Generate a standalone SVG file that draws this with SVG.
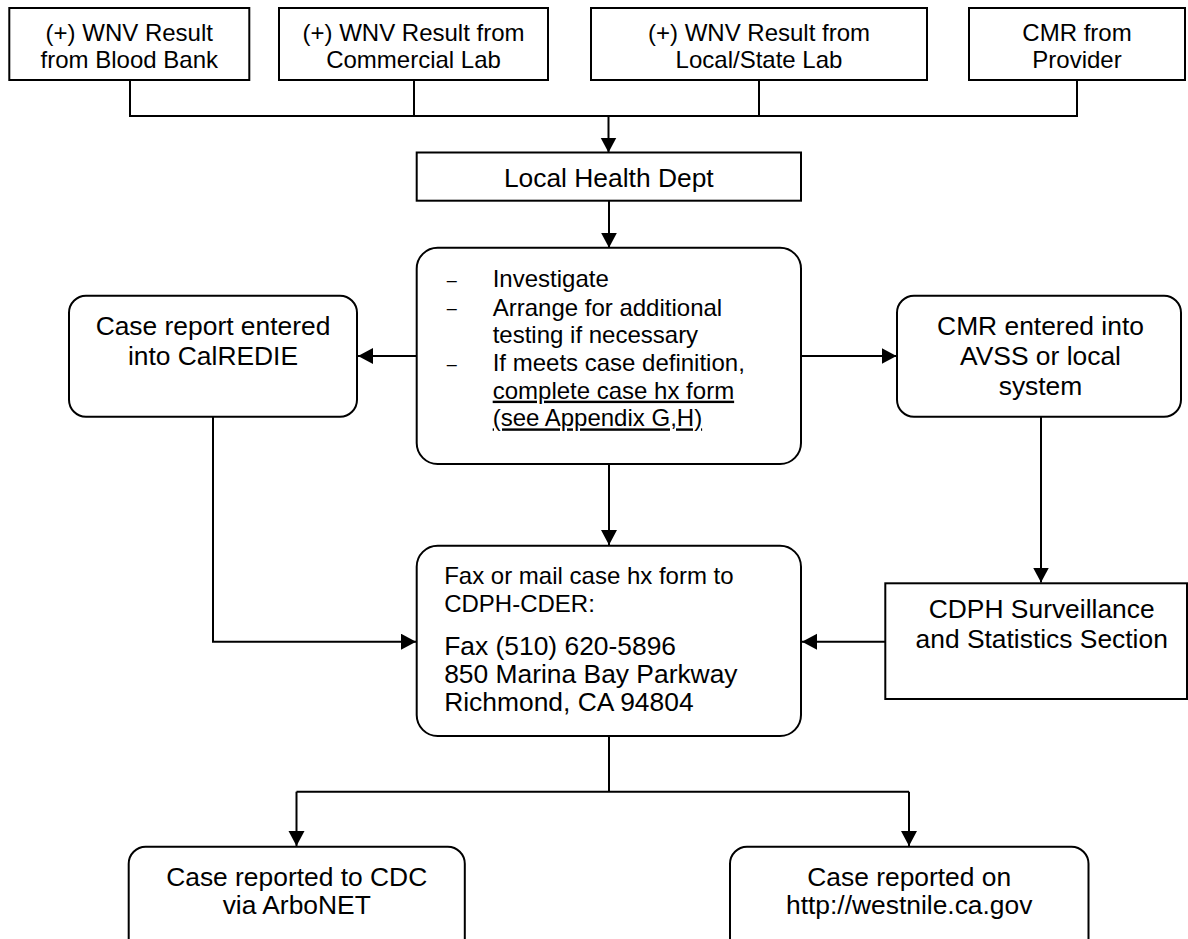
<svg xmlns="http://www.w3.org/2000/svg" width="1188" height="939" viewBox="0 0 1188 939">
<defs>
<marker id="ah" markerUnits="userSpaceOnUse" markerWidth="18" markerHeight="18" refX="15" refY="8" orient="auto">
<path d="M0,0 L15,8 L0,16 z" fill="#000"/>
</marker>
<style>
.b{fill:#fff;stroke:#000;stroke-width:2}
.c{fill:none;stroke:#000;stroke-width:2}
.t{font-family:"Liberation Sans",Arial,sans-serif;fill:#000}
.s{font-size:24px}
.l{font-size:26.4px}
.m{text-anchor:middle}
.d{font-size:18px}
</style>
</defs>
<rect width="1188" height="939" fill="#fff"/>
<g id="connectors">
<path class="c" d="M130,80 V116 H1077 V80 M414,80 V116 M759,80 V116"/>
<path class="c" d="M608.5,116 V152.5" marker-end="url(#ah)"/>
<path class="c" d="M609,200.7 V247.7" marker-end="url(#ah)"/>
<path class="c" d="M416.7,356 H358" marker-end="url(#ah)"/>
<path class="c" d="M801,356 H896.5" marker-end="url(#ah)"/>
<path class="c" d="M609,464 V545" marker-end="url(#ah)"/>
<path class="c" d="M213,416.7 V641.7 H416" marker-end="url(#ah)"/>
<path class="c" d="M1041,416.7 V582.5" marker-end="url(#ah)"/>
<path class="c" d="M885,641.7 H802" marker-end="url(#ah)"/>
<path class="c" d="M609,736 V791.7 M296.5,791.7 H909"/>
<path class="c" d="M296.5,791.7 V846" marker-end="url(#ah)"/>
<path class="c" d="M909,791.7 V846" marker-end="url(#ah)"/>
</g>
<g id="n-bloodbank">
<rect class="b" x="9.3" y="8" width="240" height="72"/>
<text class="t s m" x="129.3" y="40.7">(+) WNV Result</text>
<text class="t s m" x="129.3" y="68.3">from Blood Bank</text>
</g>
<g id="n-commercial">
<rect class="b" x="279" y="8" width="269" height="72"/>
<text class="t s m" x="413.5" y="40.7">(+) WNV Result from</text>
<text class="t s m" x="413.5" y="68.3">Commercial Lab</text>
</g>
<g id="n-statelab">
<rect class="b" x="591" y="8" width="336" height="72"/>
<text class="t s m" x="759" y="40.7">(+) WNV Result from</text>
<text class="t s m" x="759" y="68.3">Local/State Lab</text>
</g>
<g id="n-provider">
<rect class="b" x="969" y="8" width="216" height="72"/>
<text class="t s m" x="1077" y="40.7">CMR from</text>
<text class="t s m" x="1077" y="68.3">Provider</text>
</g>
<g id="n-lhd">
<rect class="b" x="416.7" y="152.5" width="384.3" height="48.2"/>
<text class="t l m" x="608.8" y="187.3">Local Health Dept</text>
</g>
<g id="n-investigate">
<rect class="b" x="416.7" y="247.7" width="384.3" height="216.3" rx="21" ry="21"/>
<text class="t d" x="446.7" y="285.8">–</text>
<text class="t s" x="492.7" y="287.3">Investigate</text>
<text class="t d" x="446.7" y="314">–</text>
<text class="t s" x="492.7" y="315.5">Arrange for additional</text>
<text class="t s" x="492.7" y="343.3">testing if necessary</text>
<text class="t d" x="446.7" y="369.5">–</text>
<text class="t s" x="492.7" y="371">If meets case definition,</text>
<text class="t s" x="492.7" y="398.7" text-decoration="underline">complete case hx form</text>
<text class="t s" x="492.7" y="426.4" text-decoration="underline">(see Appendix G,H)</text>
</g>
<g id="n-calredie">
<rect class="b" x="69" y="295.7" width="288" height="121" rx="17" ry="17"/>
<text class="t l m" x="213" y="335">Case report entered</text>
<text class="t l m" x="213" y="365">into CalREDIE</text>
</g>
<g id="n-avss">
<rect class="b" x="897" y="295.7" width="284" height="121" rx="17" ry="17"/>
<text class="t l m" x="1040.5" y="335">CMR entered into</text>
<text class="t l m" x="1040.5" y="365">AVSS or local</text>
<text class="t l m" x="1040.5" y="395">system</text>
</g>
<g id="n-fax">
<rect class="b" x="416.7" y="545.7" width="384.3" height="190.3" rx="21" ry="21"/>
<text class="t s" x="444.2" y="584">Fax or mail case hx form to</text>
<text class="t s" x="444.2" y="611.7">CDPH-CDER:</text>
<text class="t l" x="444.2" y="655">Fax (510) 620-5896</text>
<text class="t l" x="444.2" y="683.3">850 Marina Bay Parkway</text>
<text class="t l" x="444.2" y="711">Richmond, CA 94804</text>
</g>
<g id="n-cdph">
<rect class="b" x="885.3" y="583.3" width="301.7" height="115.7"/>
<text class="t l m" x="1041.7" y="618.3">CDPH Surveillance</text>
<text class="t l m" x="1041.7" y="648.3">and Statistics Section</text>
</g>
<g id="n-cdc">
<rect class="b" x="128.7" y="846.7" width="336.1" height="120" rx="17" ry="17"/>
<text class="t l m" x="296.7" y="886">Case reported to CDC</text>
<text class="t l m" x="296.7" y="914.3">via ArboNET</text>
</g>
<g id="n-web">
<rect class="b" x="730" y="846.7" width="358.5" height="120" rx="17" ry="17"/>
<text class="t l m" x="909.2" y="886">Case reported on</text>
<text class="t l m" x="909.2" y="914.3">http://westnile.ca.gov</text>
</g>
</svg>
